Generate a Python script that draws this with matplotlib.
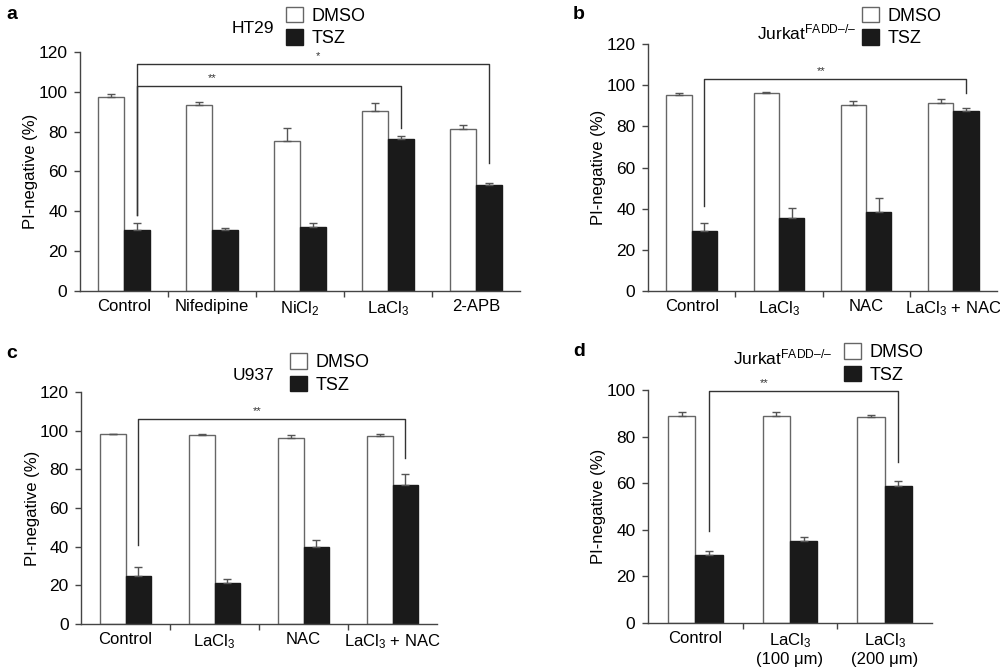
import matplotlib
matplotlib.use("Agg")
import matplotlib.pyplot as plt
import numpy as np

plt.rcParams['font.family'] = ['Liberation Sans', 'DejaVu Sans']
plt.rcParams['mathtext.fontset'] = 'custom'
plt.rcParams['mathtext.rm'] = 'Liberation Sans'
plt.rcParams['mathtext.it'] = 'Liberation Sans'
plt.rcParams['mathtext.default'] = 'rm'

# ---- data ----
a_cats = ['Control', 'Nifedipine', 'NiCl$_2$', 'LaCl$_3$', '2-APB']
a_dmso = [97.5, 93.3, 75.3, 90.3, 81.1]
a_dmso_err = [1.5, 1.7, 6.4, 4.1, 2.0]
a_tsz = [30.8, 30.4, 32.3, 76.4, 53.1]
a_tsz_err = [3.2, 1.1, 1.6, 1.2, 1.0]

b_cats = ['Control', 'LaCl$_3$', 'NAC', 'LaCl$_3$ + NAC']
b_dmso = [95.2, 96.3, 90.2, 91.1]
b_dmso_err = [1.2, 0.5, 2.1, 2.1]
b_tsz = [29.0, 35.7, 38.4, 87.6]
b_tsz_err = [4.2, 4.7, 6.7, 1.1]

c_cats = ['Control', 'LaCl$_3$', 'NAC', 'LaCl$_3$ + NAC']
c_dmso = [98.2, 97.8, 96.3, 97.1]
c_dmso_err = [0.3, 0.3, 1.5, 1.3]
c_tsz = [24.8, 21.3, 39.7, 72.0]
c_tsz_err = [4.9, 2.1, 4.0, 5.5]

d_cats = ['Control', 'LaCl$_3$\n(100 μm)', 'LaCl$_3$\n(200 μm)']
d_dmso = [89.0, 88.9, 88.3]
d_dmso_err = [1.7, 1.5, 1.0]
d_tsz = [29.1, 35.3, 59.0]
d_tsz_err = [1.8, 1.6, 2.0]

fig = plt.figure(figsize=(10, 6.7), dpi=100)

AXC = '#444444'
BARW = 0.29


def panel(rect, cats, dmso, dmso_err, tsz, tsz_err, ymax, brackets, label,
          label_xy, title, title_xy, leg_xy):
    ax = fig.add_axes(rect)
    n = len(cats)
    x = np.arange(n) + 0.5
    ax.bar(x - BARW / 2, dmso, BARW, color='white', edgecolor='#666666',
           linewidth=1.0, label='DMSO', zorder=2)
    ax.bar(x + BARW / 2, tsz, BARW, color='#1a1a1a', edgecolor='#1a1a1a',
           linewidth=1.0, label='TSZ', zorder=2)
    ax.errorbar(x - BARW / 2, dmso, yerr=[np.zeros(n), dmso_err], fmt='none',
                ecolor='#555555', elinewidth=1.0, capsize=3, capthick=1.0, zorder=3)
    ax.errorbar(x + BARW / 2, tsz, yerr=[np.zeros(n), tsz_err], fmt='none',
                ecolor='#555555', elinewidth=1.0, capsize=3, capthick=1.0, zorder=3)
    ax.set_xlim(0, n)
    ax.set_ylim(0, ymax)
    ax.set_yticks(np.arange(0, ymax + 1, 20))
    ax.set_xticks(x)
    ax.set_xticklabels(cats, fontsize=12)
    ax.tick_params(axis='x', length=0, pad=6)
    ax.set_xticks(np.arange(1, n), minor=True)
    ax.tick_params(axis='x', which='minor', length=4, color=AXC, width=1)
    ax.tick_params(axis='y', length=4, color=AXC, width=1, labelsize=12.5, pad=5)
    for s in ['top', 'right']:
        ax.spines[s].set_visible(False)
    for s in ['left', 'bottom']:
        ax.spines[s].set_color(AXC)
        ax.spines[s].set_linewidth(1.0)
    ax.set_ylabel('PI-negative (%)', fontsize=12, labelpad=0)
    # significance brackets: (i_left, y_left_bottom, i_right, y_right_bottom, y_top, stars, star_x)
    for (il, yl, ir, yr, yt, st, sx) in brackets:
        xl = il + 0.5 + BARW / 2
        xr = ir + 0.5 + BARW / 2
        ax.plot([xl, xl, xr, xr], [yl, yt, yt, yr], color='#333333',
                linewidth=1.0, clip_on=False, zorder=4)
        ax.text(sx, yt + ymax * 0.012, st, ha='center', va='bottom',
                fontsize=8, color='#333333')
    fig.text(label_xy[0], label_xy[1], label, fontsize=14, fontweight='bold',
             ha='left', va='center')
    fig.text(title_xy[0], title_xy[1], title, fontsize=12.5, ha='center', va='center')
    fig.legend(handles=ax.containers[:2], labels=['DMSO', 'TSZ'],
               loc='upper left', bbox_to_anchor=leg_xy, frameon=False,
               fontsize=13, handlelength=0.95, handleheight=0.95,
               handletextpad=0.45, labelspacing=0.25, borderpad=0,
               borderaxespad=0)
    return ax


jur = 'Jurkat$^{\\mathrm{FADD{–}/{–}}}$'

panel([0.080, 0.5657, 0.440, 0.3567], a_cats, a_dmso, a_dmso_err, a_tsz, a_tsz_err,
      120,
      [(0, 38.0, 3, 82.0, 103.0, '**', 1.5),
       (0, 38.0, 4, 64.2, 114.0, '*', 2.7)],
      'a', (0.006, 0.979), 'HT29', (0.253, 0.957), (0.286, 0.990))

panel([0.648, 0.5657, 0.349, 0.3686], b_cats, b_dmso, b_dmso_err, b_tsz, b_tsz_err,
      120,
      [(0, 41.5, 3, 96.2, 103.1, '**', 1.98)],
      'b', (0.573, 0.979), jur, (0.807, 0.952), (0.862, 0.990))

panel([0.081, 0.0687, 0.356, 0.3462], c_cats, c_dmso, c_dmso_err, c_tsz, c_tsz_err,
      120,
      [(0, 40.9, 3, 86.0, 106.2, '**', 1.98)],
      'c', (0.006, 0.473), 'U937', (0.253, 0.440), (0.290, 0.473))

panel([0.648, 0.0701, 0.284, 0.3478], d_cats, d_dmso, d_dmso_err, d_tsz, d_tsz_err,
      100,
      [(0, 39.3, 2, 69.3, 99.6, '**', 1.23)],
      'd', (0.573, 0.475), jur, (0.783, 0.467), (0.844, 0.488))

fig.savefig('out.png', dpi=100)
